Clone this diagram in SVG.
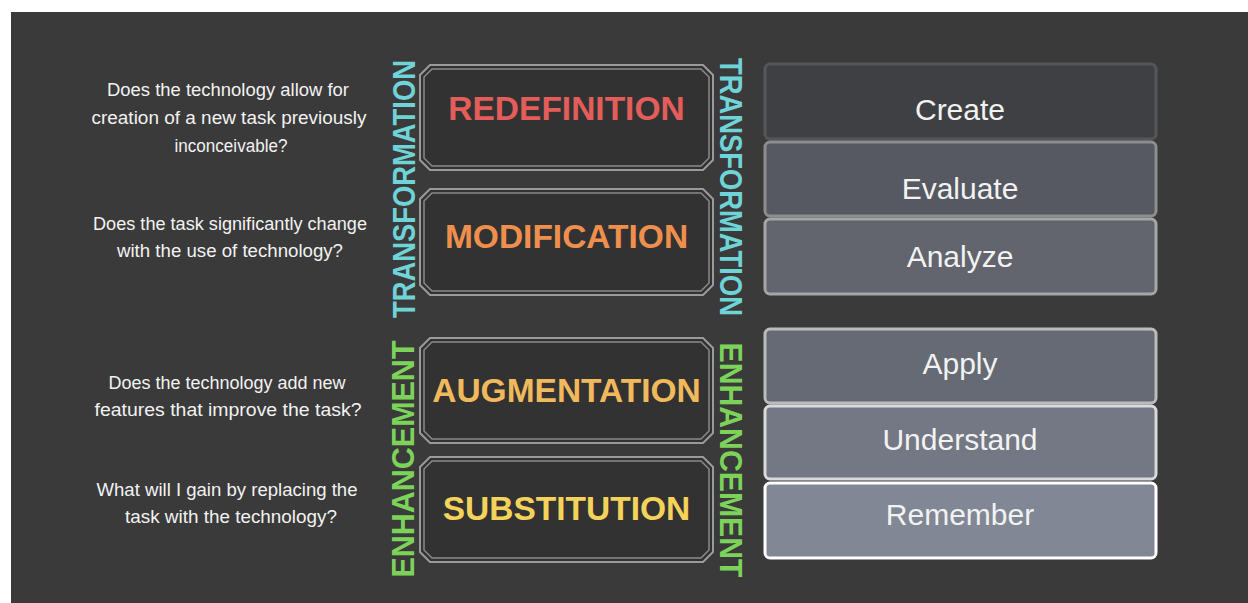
<svg xmlns="http://www.w3.org/2000/svg" width="1248" height="603" viewBox="0 0 1248 603">
<style>
.q{font-family:"Liberation Sans","DejaVu Sans",sans-serif;font-size:17.5px;fill:#f2f2f2;text-anchor:middle}
.samr{font-family:"Liberation Sans",Arial,sans-serif;font-weight:bold;font-size:33.5px;text-anchor:middle}
.vert{font-family:"Liberation Sans",Arial,sans-serif;font-weight:bold;font-size:30.5px;text-anchor:middle}
.outer{fill:#323232;stroke:#9a9a9a;stroke-width:2}
.inner{fill:none;stroke:#8a8a8a;stroke-width:1.5}
.bl{font-family:"Liberation Sans",Arial,sans-serif;font-size:30px;fill:#f2f2f2;text-anchor:middle}
.bbox{stroke-width:3}
</style>
<rect x="0" y="0" width="1248" height="603" fill="#ffffff"/>
<rect x="11" y="12" width="1237" height="591" fill="#3a3a3a"/>

<g id="questions">
<g id="q-redefinition">
<text class="q" x="228" y="96" textLength="242" lengthAdjust="spacingAndGlyphs">Does the technology allow for</text>
<text class="q" x="229" y="124" textLength="275" lengthAdjust="spacingAndGlyphs">creation of a new task previously</text>
<text class="q" x="231" y="152" textLength="113" lengthAdjust="spacingAndGlyphs">inconceivable?</text>
</g>
<g id="q-modification">
<text class="q" x="230" y="230" textLength="274" lengthAdjust="spacingAndGlyphs">Does the task significantly change</text>
<text class="q" x="230" y="257" textLength="226" lengthAdjust="spacingAndGlyphs">with the use of technology?</text>
</g>
<g id="q-augmentation">
<text class="q" x="227" y="389" textLength="237" lengthAdjust="spacingAndGlyphs">Does the technology add new</text>
<text class="q" x="228" y="416" textLength="267" lengthAdjust="spacingAndGlyphs">features that improve the task?</text>
</g>
<g id="q-substitution">
<text class="q" x="227" y="496" textLength="261" lengthAdjust="spacingAndGlyphs">What will I gain by replacing the</text>
<text class="q" x="231" y="523" textLength="212" lengthAdjust="spacingAndGlyphs">task with the technology?</text>
</g>
</g>

<g id="labels">
<text class="vert" fill="#6fd3d8" transform="translate(415,189) rotate(-90)" textLength="258" lengthAdjust="spacingAndGlyphs">TRANSFORMATION</text>
<text class="vert" fill="#6fd3d8" transform="translate(720,187) rotate(90)" textLength="258" lengthAdjust="spacingAndGlyphs">TRANSFORMATION</text>
<text class="vert" fill="#7dd35a" transform="translate(414,459) rotate(-90)" textLength="237" lengthAdjust="spacingAndGlyphs">ENHANCEMENT</text>
<text class="vert" fill="#7dd35a" transform="translate(720,460) rotate(90)" textLength="235" lengthAdjust="spacingAndGlyphs">ENHANCEMENT</text>
</g>

<g id="redefinition">
<polygon class="outer" points="430,65 703,65 713,75 713,160 703,170 430,170 420,160 420,75"/>
<polygon class="inner" points="432,69 701,69 709,77 709,158 701,166 432,166 424,158 424,77"/>
<text class="samr" x="566.5" y="120" fill="#e35d5b">REDEFINITION</text>
</g>
<g id="modification">
<polygon class="outer" points="430,189 703,189 713,199 713,285 703,295 430,295 420,285 420,199"/>
<polygon class="inner" points="432,193 701,193 709,201 709,283 701,291 432,291 424,283 424,201"/>
<text class="samr" x="566.5" y="248" fill="#ef8f4e">MODIFICATION</text>
</g>
<g id="augmentation">
<polygon class="outer" points="430,338 703,338 713,348 713,433 703,443 430,443 420,433 420,348"/>
<polygon class="inner" points="432,342 701,342 709,350 709,431 701,439 432,439 424,431 424,350"/>
<text class="samr" x="566.5" y="402" fill="#f0b95b">AUGMENTATION</text>
</g>
<g id="substitution">
<polygon class="outer" points="430,457 703,457 713,467 713,552 703,562 430,562 420,552 420,467"/>
<polygon class="inner" points="432,461 701,461 709,469 709,550 701,558 432,558 424,550 424,469"/>
<text class="samr" x="566.5" y="520" fill="#f5d35a">SUBSTITUTION</text>
</g>

<g id="create">
<rect class="bbox" x="765" y="64" width="391" height="75" rx="5" fill="#3f4043" stroke="#555658"/>
<text class="bl" x="960" y="120">Create</text>
</g>
<g id="evaluate">
<rect class="bbox" x="765" y="142" width="391" height="74" rx="5" fill="#565961" stroke="#8e8e8e"/>
<text class="bl" x="960" y="199">Evaluate</text>
</g>
<g id="analyze">
<rect class="bbox" x="765" y="219" width="391" height="75" rx="5" fill="#62656d" stroke="#a6a6a6"/>
<text class="bl" x="960" y="267">Analyze</text>
</g>
<g id="apply">
<rect class="bbox" x="765" y="329" width="391" height="74" rx="5" fill="#656a74" stroke="#bcbcbc"/>
<text class="bl" x="960" y="374">Apply</text>
</g>
<g id="understand">
<rect class="bbox" x="765" y="406" width="391" height="73" rx="5" fill="#737884" stroke="#dadada"/>
<text class="bl" x="960" y="450">Understand</text>
</g>
<g id="remember">
<rect class="bbox" x="765" y="483" width="391" height="75" rx="5" fill="#818794" stroke="#ffffff"/>
<text class="bl" x="960" y="525">Remember</text>
</g>

<g id="connectors"/>
</svg>
